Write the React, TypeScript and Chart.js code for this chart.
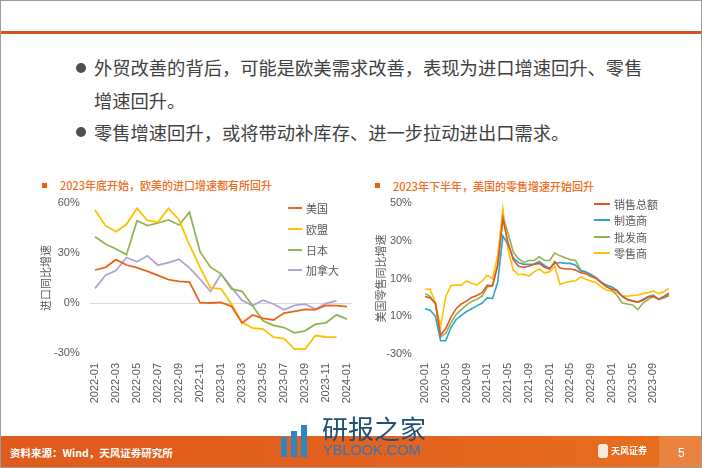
import React, { useEffect, useRef } from 'react';
import { Chart, registerables } from 'chart.js';

Chart.register(...registerables);

// ---------- Data: left chart (进口同比增速) ----------
const importMonths = [
  '2022-01', '2022-02', '2022-03', '2022-04', '2022-05', '2022-06', '2022-07', '2022-08', '2022-09',
  '2022-10', '2022-11', '2022-12', '2023-01', '2023-02', '2023-03', '2023-04', '2023-05', '2023-06',
  '2023-07', '2023-08', '2023-09', '2023-10', '2023-11', '2023-12', '2024-01',
];
const importSeriesNames = ['美国', '欧盟', '日本', '加拿大'];
const usImport = [19.8, 21.4, 26, 22.8, 21.2, 19, 16.6, 14, 13, 12.6, 0.2, 0, 0.4, -2, -12, -7.2, -9.2, -10.2, -6, -5, -3.8, -4, -1.5, -1.6, -2.2];
const euImport = [55.8, 46.4, 42.8, 47.2, 56.8, 49.5, 48.5, 56.7, 50, 34.8, 21.4, 9, 8.5, -0.6, -11.6, -15, -15.6, -20.5, -21.4, -27.7, -27.7, -19.5, -20.4, -20.5, null];
const japanImport = [39.8, 35.4, 32.4, 29, 49.4, 46.4, 48, 49.8, 46.8, 54.5, 30.8, 21.5, 17.5, 8.4, 7, -1.5, -10.7, -13.4, -14.7, -17.9, -16.7, -12.7, -11.9, -7.1, -9.7];
const canadaImport = [8.8, 16.7, 19.5, 27.3, 24.7, 28.3, 22.7, 24.2, 26.2, 21.1, 14.3, 6.9, 17.3, 9.4, 1.6, -1.6, 1.7, -0.6, -4.1, -1.4, -0.7, -3.6, -0.2, 1.3, null];
const importTicks = [-30, 0, 30, 60];

// ---------- Data: right chart (美国零售同比增速) ----------
const retailMonths = [
  '2020-01', '2020-02', '2020-03', '2020-04', '2020-05', '2020-06', '2020-07', '2020-08', '2020-09', '2020-10', '2020-11', '2020-12',
  '2021-01', '2021-02', '2021-03', '2021-04', '2021-05', '2021-06', '2021-07', '2021-08', '2021-09', '2021-10', '2021-11', '2021-12',
  '2022-01', '2022-02', '2022-03', '2022-04', '2022-05', '2022-06', '2022-07', '2022-08', '2022-09', '2022-10', '2022-11', '2022-12',
  '2023-01', '2023-02', '2023-03', '2023-04', '2023-05', '2023-06', '2023-07', '2023-08', '2023-09', '2023-10', '2023-11', '2023-12',
];
const retailSeriesNames = ['销售总额', '制造商', '批发商', '零售商'];
const totalSales = [0.5, -0.3, -3, -20, -16.5, -10.5, -6, -3.5, -2, 0, 1, 2.5, 6.5, 6, 17, 41.5, 29, 20, 16.5, 16, 16.5, 17.5, 18, 16, 15, 19, 15.5, 15, 15, 14.5, 13, 12.5, 11, 10, 7.5, 5.5, 4.5, 3.5, 0.5, -1.2, -2, -2.5, -1.5, 0.3, 0.5, -0.8, 0.5, 2.3];
const manufacturers = [-6, -6.8, -10, -23, -23, -16, -11.7, -9.5, -7.5, -6, -4.5, -3, -0.3, -0.7, 8, 32.6, 28, 21, 18.4, 17.5, 17.5, 17.7, 19, 16.9, 15.4, 18, 18.5, 18, 18, 17, 14, 13.5, 12, 10, 8, 6.5, 5.5, 3.7, 0.5, -1, -1.8, -2.5, -1, 0.5, 1.2, -1, 0, 1.2];
const wholesalers = [2, 0.5, -3.5, -21, -19, -13.5, -9, -6.5, -4, -2.2, -1, 0.7, 5.5, 6.5, 17, 43, 34, 24, 20.5, 18.5, 19.5, 19.5, 21.5, 19.7, 19.5, 23.5, 22, 21, 20, 19.5, 14.5, 13.5, 12, 10.5, 8, 6, 3.7, 1, -3, -3.5, -4, -6.5, -3, -1, 0.5, -1.2, -0.3, 0.8];
const retailers = [4.3, 4.3, -3, -15.5, 0.5, 6.3, 6.5, 6.5, 8.7, 7.5, 6.6, 8.7, 11.7, 9.9, 22, 47, 25, 14.5, 12, 12.3, 11.3, 13.5, 15, 13, 13.5, 16.5, 7, 7.8, 8.5, 8.8, 10.8, 9.6, 8.6, 7.8, 5.5, 3.8, 3.2, 2.5, 0.8, 0.6, 1, 1.3, 2, 2.6, 3.3, 2, 3, 4.8];
const retailTicks = [-30, -10, 10, 30, 50];

// ---------- Styles ----------
const importColors = ['#E8661C', '#FFC000', '#92B553', '#B3A2D6'];
const retailColors = ['#E9541F', '#2FA4C8', '#92B553', '#FFC000'];
const GRAY = '#595959';
const NUM_FONT = "'Liberation Sans', 'Noto Sans CJK SC', sans-serif";
const CJK_FONT = "'Noto Sans CJK SC', 'Liberation Sans', sans-serif";

type ChartSpec = {
  labels: string[];
  names: string[];
  series: (number | null)[][];
  colors: string[];
  ticks: number[];
  tickEvery: number;
  yTitle: string;
  padTop: number;
  padRight: number;
  yWidth: number;
  xHeight: number;
  tickPadY: number;
  tickPadX: number;
  titlePad: number;
  lineWidth: number;
  tickText: (v: number) => string;
};

function buildConfig(s: ChartSpec): any {
  return {
    type: 'line',
    data: {
      labels: s.labels,
      datasets: s.series.map((d, i) => ({
        label: s.names[i],
        data: d,
        borderColor: s.colors[i],
        backgroundColor: s.colors[i],
        borderWidth: s.lineWidth,
        pointRadius: 0,
        tension: 0,
        fill: false,
        spanGaps: false,
      })),
    },
    options: {
      animation: false,
      responsive: false,
      layout: { padding: { left: 0, top: s.padTop, right: s.padRight, bottom: 0 } },
      plugins: { legend: { display: false }, tooltip: { enabled: false } },
      scales: {
        x: {
          type: 'category',
          offset: true,
          grid: { display: false, drawTicks: false },
          border: { display: false },
          ticks: {
            autoSkip: false,
            maxRotation: 90,
            minRotation: 90,
            padding: s.tickPadX,
            color: GRAY,
            font: { family: NUM_FONT, size: 11 },
            callback: (_v: any, i: number) => (i % s.tickEvery === 0 ? s.labels[i] : null),
          },
          afterFit: (sc: any) => { sc.height = s.xHeight; sc.paddingLeft = 0; sc.paddingRight = 0; },
        },
        y: {
          min: s.ticks[0],
          max: s.ticks[s.ticks.length - 1],
          afterBuildTicks: (sc: any) => { sc.ticks = s.ticks.map((v) => ({ value: v })); },
          grid: {
            drawTicks: false,
            color: (ctx: any) => (ctx.tick && ctx.tick.value === 0 ? '#D9D9D9' : 'rgba(0,0,0,0)'),
            lineWidth: 1,
          },
          border: { display: false },
          ticks: {
            padding: s.tickPadY,
            color: GRAY,
            font: { family: NUM_FONT, size: 11 },
            callback: (v: any) => s.tickText(Number(v)),
          },
          title: {
            display: true,
            text: s.yTitle,
            color: GRAY,
            font: { family: CJK_FONT, size: 11 },
            padding: { top: s.titlePad, bottom: 0 },
          },
          afterFit: (sc: any) => { sc.width = s.yWidth; sc.paddingTop = 0; sc.paddingBottom = 0; },
        },
      },
    },
  };
}

function LineChart({ spec, left, top, width, height }: { spec: ChartSpec; left: number; top: number; width: number; height: number }) {
  const ref = useRef<HTMLCanvasElement>(null);
  useEffect(() => {
    const chart = new Chart(ref.current as HTMLCanvasElement, buildConfig(spec));
    return () => chart.destroy();
  }, []);
  return (
    <canvas
      ref={ref}
      width={width}
      height={height}
      style={{ position: 'absolute', left, top, width, height }}
    />
  );
}

function Legend({ names, colors, left, top, gap, lineW, textGap }: { names: string[]; colors: string[]; left: number; top: number; gap: number; lineW: number; textGap: number }) {
  return (
    <>
      {names.map((n, i) => (
        <div
          key={n}
          style={{
            position: 'absolute',
            left,
            top: top + i * gap - 8,
            height: 16,
            display: 'flex',
            alignItems: 'center',
            fontFamily: CJK_FONT,
            fontSize: 11,
            color: GRAY,
            whiteSpace: 'nowrap',
          }}
        >
          <span style={{ display: 'inline-block', width: lineW, height: 2, background: colors[i], marginRight: textGap }} />
          <span style={{ lineHeight: '16px' }}>{n}</span>
        </div>
      ))}
    </>
  );
}

function ChartTitle({ text, left, top }: { text: string; left: number; top: number }) {
  return (
    <>
      <div style={{ position: 'absolute', left, top: top - 2.5, width: 5, height: 5, background: '#F05A14' }} />
      <div
        style={{
          position: 'absolute',
          left: left + 18,
          top: top - 8,
          height: 16,
          lineHeight: '16px',
          fontFamily: CJK_FONT,
          fontSize: 11,
          fontWeight: 500,
          color: '#EE6E22',
          whiteSpace: 'nowrap',
        }}
      >
        {text}
      </div>
    </>
  );
}

const leftSpec: ChartSpec = {
  labels: importMonths,
  names: importSeriesNames,
  series: [usImport, euImport, japanImport, canadaImport],
  colors: importColors,
  ticks: importTicks,
  tickEvery: 2,
  yTitle: '进口同比增速',
  padTop: 12,
  padRight: 8.75,
  yWidth: 58.75,
  xHeight: 63,
  tickPadY: 10,
  tickPadX: 10,
  titlePad: 8,
  lineWidth: 1.8,
  tickText: (v) => v + '%',
};

const rightSpec: ChartSpec = {
  labels: retailMonths,
  names: retailSeriesNames,
  series: [totalSales, manufacturers, wholesalers, retailers],
  colors: retailColors,
  ticks: retailTicks,
  tickEvery: 4,
  yTitle: '美国零售同比增速',
  padTop: 12,
  padRight: 19.4,
  yWidth: 61.4,
  xHeight: 62,
  tickPadY: 10.5,
  tickPadX: 9,
  titlePad: 13,
  lineWidth: 1.6,
  tickText: (v) => (v === -10 ? '10%' : v + '%'),
};

const textStyle: React.CSSProperties = {
  position: 'absolute',
  fontFamily: CJK_FONT,
  fontSize: 18.3,
  lineHeight: '19px',
  color: '#404040',
  whiteSpace: 'nowrap',
};

export default function App() {
  return (
    <div
      style={{
        position: 'absolute',
        left: 0,
        top: 0,
        width: 702,
        height: 468,
        background: '#fff',
        overflow: 'hidden',
        boxSizing: 'border-box',
        border: '1px solid #9C9C9C',
      }}
    >
      {/* header rule */}
      <div style={{ position: 'absolute', left: 0, top: 30, width: 702, height: 3, background: '#D6531F' }} />

      {/* bullet text */}
      <div style={{ position: 'absolute', left: 75, top: 62, width: 10, height: 10, borderRadius: 5, background: '#505050' }} />
      <div style={{ ...textStyle, left: 93, top: 57 }}>外贸改善的背后，可能是欧美需求改善，表现为进口增速回升、零售</div>
      <div style={{ ...textStyle, left: 93, top: 90 }}>增速回升。</div>
      <div style={{ position: 'absolute', left: 75, top: 126, width: 10, height: 10, borderRadius: 5, background: '#505050' }} />
      <div style={{ ...textStyle, left: 93, top: 121.5 }}>零售增速回升，或将带动补库存、进一步拉动进出口需求。</div>

      {/* chart titles */}
      <ChartTitle text="2023年底开始，欧美的进口增速都有所回升" left={41} top={184} />
      <ChartTitle text="2023年下半年，美国的零售增速开始回升" left={374} top={184.5} />

      {/* charts */}
      <LineChart spec={leftSpec} left={30} top={190} width={330} height={225} />
      <LineChart spec={rightSpec} left={360} top={190} width={330} height={225} />

      {/* legends */}
      <Legend names={importSeriesNames} colors={importColors} left={287} top={207} gap={20.8} lineW={14} textGap={4} />
      <Legend names={retailSeriesNames} colors={retailColors} left={593} top={202.5} gap={16.5} lineW={16} textGap={4} />

      {/* footer */}
      <div style={{ position: 'absolute', left: 0, top: 435, width: 702, height: 33, background: 'linear-gradient(90deg, #DF5A1C 0%, #E4631E 60%, #E8701F 100%)' }} />
      <div style={{ position: 'absolute', left: 658, top: 435, width: 44, height: 33, background: '#EA8240' }} />
      <div style={{ position: 'absolute', left: 9, top: 444, height: 16, lineHeight: '16px', fontFamily: CJK_FONT, fontSize: 10.5, fontWeight: 'bold', color: '#fff', whiteSpace: 'nowrap' }}>
        资料来源：Wind，天风证券研究所
      </div>
      {/* watermark */}
      <div style={{ position: 'absolute', left: 280, top: 436, width: 6, height: 20, background: '#2E86C1' }} />
      <div style={{ position: 'absolute', left: 290, top: 430, width: 6, height: 26, background: '#2E86C1' }} />
      <div style={{ position: 'absolute', left: 300, top: 424, width: 6, height: 32, background: '#2E86C1' }} />
      <div style={{ position: 'absolute', left: 321, top: 414, height: 26, lineHeight: '26px', fontFamily: CJK_FONT, fontSize: 26, color: '#1F4E79', whiteSpace: 'nowrap' }}>研报之家</div>
      <div style={{ position: 'absolute', left: 322, top: 441, height: 16, lineHeight: '16px', fontFamily: "'Liberation Sans', sans-serif", fontSize: 14.5, color: '#2E75B6', whiteSpace: 'nowrap' }}>YBLOOK.COM</div>
      {/* footer logo + page */}
      <div style={{ position: 'absolute', left: 597, top: 443, width: 10, height: 14, borderRadius: 3, background: 'rgba(255,255,255,0.85)' }} />
      <div style={{ position: 'absolute', left: 610, top: 444, height: 12, lineHeight: '12px', fontFamily: CJK_FONT, fontSize: 9, fontWeight: 'bold', color: '#fff', whiteSpace: 'nowrap' }}>天风证券</div>
      <div style={{ position: 'absolute', left: 677, top: 444, height: 16, lineHeight: '16px', fontFamily: NUM_FONT, fontSize: 12, color: '#fff' }}>5</div>
    </div>
  );
}
